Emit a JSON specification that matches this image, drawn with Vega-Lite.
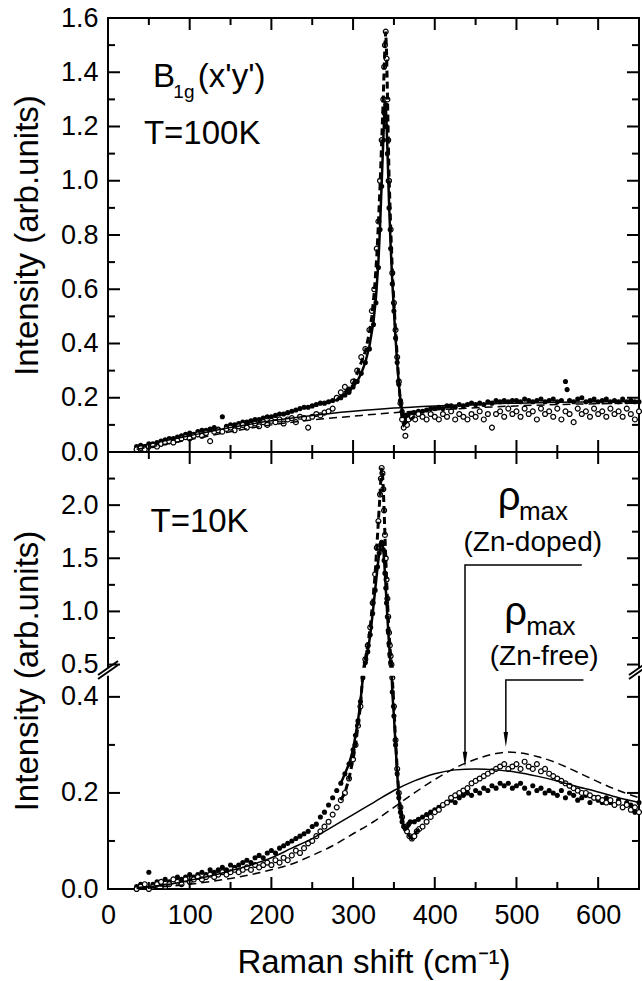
{
"$schema": "https://vega.github.io/schema/vega-lite/v6.json",
"padding": {"left": 10, "top": 3, "right": 3, "bottom": 5},
"spacing": 0,
"bounds": "flush",
"config": {
  "font": "Liberation Sans",
  "view": {"stroke": "black", "strokeWidth": 2},
  "axis": {"grid": false, "domain": false, "ticks": false, "labelColor": "black", "labelFont": "Liberation Sans", "labelFontSize": 27, "titleFont": "Liberation Sans", "titleFontSize": 33, "titleFontWeight": "normal", "titleColor": "black", "labelOverlap": false, "labelFlush": false},
  "tick": {"color": "black", "opacity": 1, "thickness": 2}
},
"datasets": {
  "xmaj": [{"v":100},{"v":200},{"v":300},{"v":400},{"v":500},{"v":600}],
  "xmin": [{"v":50},{"v":150},{"v":250},{"v":350},{"v":450},{"v":550}],
  "tymaj": [{"v":0.2},{"v":0.4},{"v":0.6},{"v":0.8},{"v":1.0},{"v":1.2},{"v":1.4}],
  "tymin": [{"v":0.1},{"v":0.3},{"v":0.5},{"v":0.7},{"v":0.9},{"v":1.1},{"v":1.3},{"v":1.5}],
  "bymaj": [{"v":0.2},{"v":0.4},{"v":0.5},{"v":1.0},{"v":1.5},{"v":2.0}],
  "bymin": [{"v":0.1},{"v":0.3},{"v":0.75},{"v":1.25},{"v":1.75},{"v":2.25}],
  "t_f": [{"x":35,"y":0.02},{"x":40,"y":0.025},{"x":45,"y":0.02},{"x":50,"y":0.03},{"x":55,"y":0.03},{"x":60,"y":0.035},{"x":65,"y":0.04},{"x":70,"y":0.045},{"x":75,"y":0.05},{"x":80,"y":0.05},{"x":85,"y":0.055},{"x":90,"y":0.06},{"x":95,"y":0.065},{"x":100,"y":0.07},{"x":105,"y":0.065},{"x":110,"y":0.075},{"x":115,"y":0.08},{"x":120,"y":0.08},{"x":125,"y":0.085},{"x":130,"y":0.09},{"x":135,"y":0.085},{"x":140,"y":0.13},{"x":145,"y":0.095},{"x":150,"y":0.1},{"x":155,"y":0.1},{"x":160,"y":0.105},{"x":165,"y":0.11},{"x":170,"y":0.11},{"x":175,"y":0.115},{"x":180,"y":0.12},{"x":185,"y":0.12},{"x":190,"y":0.125},{"x":195,"y":0.13},{"x":200,"y":0.13},{"x":205,"y":0.135},{"x":210,"y":0.14},{"x":215,"y":0.14},{"x":220,"y":0.145},{"x":225,"y":0.15},{"x":230,"y":0.155},{"x":235,"y":0.16},{"x":240,"y":0.165},{"x":245,"y":0.165},{"x":250,"y":0.17},{"x":255,"y":0.175},{"x":260,"y":0.18},{"x":265,"y":0.18},{"x":270,"y":0.185},{"x":275,"y":0.19},{"x":280,"y":0.195},{"x":285,"y":0.2},{"x":290,"y":0.21},{"x":295,"y":0.22},{"x":300,"y":0.24},{"x":305,"y":0.26},{"x":310,"y":0.29},{"x":315,"y":0.33},{"x":320,"y":0.38},{"x":325,"y":0.47},{"x":328,"y":0.55},{"x":331,"y":0.68},{"x":333,"y":0.82},{"x":335,"y":0.98},{"x":337,"y":1.15},{"x":338,"y":1.25},{"x":339,"y":1.3},{"x":340,"y":1.28},{"x":341,"y":1.2},{"x":342,"y":1.1},{"x":343,"y":1.0},{"x":344,"y":0.9},{"x":346,"y":0.75},{"x":348,"y":0.62},{"x":350,"y":0.52},{"x":352,"y":0.42},{"x":354,"y":0.33},{"x":356,"y":0.25},{"x":358,"y":0.19},{"x":360,"y":0.15},{"x":362,"y":0.13},{"x":364,"y":0.12},{"x":367,"y":0.13},{"x":370,"y":0.14},{"x":375,"y":0.145},{"x":380,"y":0.15},{"x":385,"y":0.15},{"x":390,"y":0.155},{"x":395,"y":0.16},{"x":400,"y":0.16},{"x":405,"y":0.165},{"x":410,"y":0.16},{"x":415,"y":0.17},{"x":420,"y":0.17},{"x":425,"y":0.165},{"x":430,"y":0.175},{"x":435,"y":0.17},{"x":440,"y":0.175},{"x":445,"y":0.18},{"x":450,"y":0.175},{"x":455,"y":0.18},{"x":460,"y":0.175},{"x":465,"y":0.185},{"x":470,"y":0.18},{"x":475,"y":0.19},{"x":480,"y":0.185},{"x":485,"y":0.19},{"x":490,"y":0.185},{"x":495,"y":0.19},{"x":500,"y":0.19},{"x":505,"y":0.185},{"x":510,"y":0.195},{"x":515,"y":0.19},{"x":520,"y":0.185},{"x":525,"y":0.19},{"x":530,"y":0.195},{"x":535,"y":0.185},{"x":540,"y":0.19},{"x":545,"y":0.195},{"x":550,"y":0.185},{"x":555,"y":0.19},{"x":560,"y":0.26},{"x":562,"y":0.23},{"x":565,"y":0.19},{"x":570,"y":0.185},{"x":575,"y":0.195},{"x":580,"y":0.2},{"x":585,"y":0.185},{"x":590,"y":0.19},{"x":595,"y":0.195},{"x":600,"y":0.185},{"x":605,"y":0.19},{"x":610,"y":0.195},{"x":615,"y":0.185},{"x":620,"y":0.19},{"x":625,"y":0.185},{"x":630,"y":0.195},{"x":635,"y":0.185},{"x":640,"y":0.19},{"x":645,"y":0.185},{"x":650,"y":0.185}],
  "t_o": [{"x":35,"y":0.01},{"x":40,"y":0.015},{"x":45,"y":0.01},{"x":50,"y":0.02},{"x":55,"y":0.025},{"x":60,"y":0.02},{"x":65,"y":0.03},{"x":70,"y":0.035},{"x":75,"y":0.04},{"x":80,"y":0.035},{"x":85,"y":0.045},{"x":90,"y":0.05},{"x":95,"y":0.055},{"x":100,"y":0.05},{"x":105,"y":0.06},{"x":110,"y":0.065},{"x":115,"y":0.06},{"x":120,"y":0.07},{"x":125,"y":0.04},{"x":130,"y":0.075},{"x":135,"y":0.08},{"x":140,"y":0.075},{"x":145,"y":0.085},{"x":150,"y":0.09},{"x":155,"y":0.08},{"x":160,"y":0.095},{"x":165,"y":0.1},{"x":170,"y":0.09},{"x":175,"y":0.1},{"x":180,"y":0.105},{"x":185,"y":0.095},{"x":190,"y":0.11},{"x":195,"y":0.1},{"x":200,"y":0.115},{"x":205,"y":0.11},{"x":210,"y":0.12},{"x":215,"y":0.105},{"x":220,"y":0.12},{"x":225,"y":0.125},{"x":230,"y":0.11},{"x":235,"y":0.13},{"x":240,"y":0.125},{"x":245,"y":0.09},{"x":250,"y":0.13},{"x":255,"y":0.14},{"x":260,"y":0.135},{"x":265,"y":0.145},{"x":270,"y":0.15},{"x":275,"y":0.16},{"x":280,"y":0.2},{"x":285,"y":0.22},{"x":290,"y":0.24},{"x":295,"y":0.23},{"x":300,"y":0.26},{"x":305,"y":0.3},{"x":310,"y":0.35},{"x":315,"y":0.38},{"x":320,"y":0.45},{"x":323,"y":0.52},{"x":326,"y":0.6},{"x":329,"y":0.75},{"x":331,"y":0.85},{"x":333,"y":1.0},{"x":335,"y":1.15},{"x":337,"y":1.3},{"x":338,"y":1.42},{"x":339,"y":1.5},{"x":340,"y":1.55},{"x":341,"y":1.45},{"x":342,"y":1.3},{"x":343,"y":1.15},{"x":344,"y":1.0},{"x":346,"y":0.82},{"x":348,"y":0.66},{"x":350,"y":0.55},{"x":352,"y":0.45},{"x":354,"y":0.35},{"x":356,"y":0.26},{"x":358,"y":0.18},{"x":360,"y":0.12},{"x":362,"y":0.09},{"x":364,"y":0.06},{"x":366,"y":0.1},{"x":368,"y":0.12},{"x":372,"y":0.13},{"x":376,"y":0.12},{"x":380,"y":0.14},{"x":385,"y":0.13},{"x":390,"y":0.12},{"x":395,"y":0.14},{"x":400,"y":0.13},{"x":405,"y":0.12},{"x":410,"y":0.14},{"x":415,"y":0.13},{"x":420,"y":0.15},{"x":425,"y":0.12},{"x":430,"y":0.14},{"x":435,"y":0.13},{"x":440,"y":0.12},{"x":445,"y":0.14},{"x":450,"y":0.13},{"x":455,"y":0.15},{"x":460,"y":0.12},{"x":465,"y":0.14},{"x":470,"y":0.09},{"x":475,"y":0.14},{"x":480,"y":0.15},{"x":485,"y":0.13},{"x":490,"y":0.16},{"x":495,"y":0.14},{"x":500,"y":0.15},{"x":505,"y":0.13},{"x":510,"y":0.16},{"x":515,"y":0.14},{"x":520,"y":0.15},{"x":525,"y":0.12},{"x":530,"y":0.16},{"x":535,"y":0.14},{"x":540,"y":0.15},{"x":545,"y":0.13},{"x":550,"y":0.16},{"x":555,"y":0.12},{"x":560,"y":0.15},{"x":565,"y":0.14},{"x":570,"y":0.11},{"x":575,"y":0.16},{"x":580,"y":0.14},{"x":585,"y":0.15},{"x":590,"y":0.13},{"x":595,"y":0.16},{"x":600,"y":0.14},{"x":605,"y":0.15},{"x":610,"y":0.13},{"x":615,"y":0.16},{"x":620,"y":0.14},{"x":625,"y":0.15},{"x":630,"y":0.13},{"x":635,"y":0.16},{"x":640,"y":0.14},{"x":645,"y":0.12},{"x":650,"y":0.15}],
  "t_bs": [{"x":35,"y":0.02},{"x":100,"y":0.06},{"x":150,"y":0.09},{"x":200,"y":0.115},{"x":250,"y":0.135},{"x":300,"y":0.15},{"x":350,"y":0.162},{"x":400,"y":0.17},{"x":450,"y":0.176},{"x":500,"y":0.18},{"x":550,"y":0.183},{"x":600,"y":0.185},{"x":650,"y":0.186}],
  "t_bd": [{"x":35,"y":0.01},{"x":100,"y":0.045},{"x":150,"y":0.075},{"x":200,"y":0.1},{"x":250,"y":0.118},{"x":300,"y":0.132},{"x":350,"y":0.145},{"x":400,"y":0.155},{"x":450,"y":0.163},{"x":500,"y":0.17},{"x":550,"y":0.175},{"x":600,"y":0.178},{"x":650,"y":0.18}],
  "t_ff": [{"x":280,"y":0.195},{"x":290,"y":0.21},{"x":300,"y":0.24},{"x":305,"y":0.26},{"x":310,"y":0.29},{"x":315,"y":0.33},{"x":320,"y":0.39},{"x":325,"y":0.48},{"x":328,"y":0.57},{"x":331,"y":0.7},{"x":333,"y":0.83},{"x":335,"y":0.99},{"x":337,"y":1.15},{"x":338,"y":1.23},{"x":339,"y":1.29},{"x":340,"y":1.28},{"x":341,"y":1.21},{"x":342,"y":1.12},{"x":343,"y":1.02},{"x":344,"y":0.92},{"x":346,"y":0.76},{"x":348,"y":0.63},{"x":350,"y":0.52},{"x":352,"y":0.42},{"x":354,"y":0.33},{"x":356,"y":0.25},{"x":358,"y":0.19},{"x":360,"y":0.155},{"x":362,"y":0.14},{"x":365,"y":0.14},{"x":370,"y":0.145},{"x":375,"y":0.15}],
  "t_fo": [{"x":280,"y":0.19},{"x":290,"y":0.22},{"x":300,"y":0.25},{"x":305,"y":0.29},{"x":310,"y":0.33},{"x":315,"y":0.37},{"x":320,"y":0.44},{"x":323,"y":0.5},{"x":326,"y":0.59},{"x":329,"y":0.72},{"x":331,"y":0.84},{"x":333,"y":0.98},{"x":335,"y":1.14},{"x":337,"y":1.31},{"x":338,"y":1.41},{"x":339,"y":1.5},{"x":340,"y":1.55},{"x":341,"y":1.47},{"x":342,"y":1.33},{"x":343,"y":1.17},{"x":344,"y":1.02},{"x":346,"y":0.83},{"x":348,"y":0.67},{"x":350,"y":0.55},{"x":352,"y":0.45},{"x":354,"y":0.35},{"x":356,"y":0.26},{"x":358,"y":0.18},{"x":360,"y":0.12},{"x":362,"y":0.1},{"x":365,"y":0.11},{"x":370,"y":0.12},{"x":375,"y":0.13}],
  "t_lab": [{"x":55,"y":1.346,"t":"B"},{"x":110,"y":1.346,"t":"(x'y')"},{"x":44,"y":1.135,"t":"T=100K"}],
  "t_sub": [{"x":80,"y":1.305,"t":"1g"}],
  "b_f": [{"x":35,"y":0.005},{"x":40,"y":0.01},{"x":45,"y":0.005},{"x":50,"y":0.035},{"x":55,"y":0.01},{"x":60,"y":0.015},{"x":65,"y":0.01},{"x":70,"y":0.02},{"x":75,"y":0.015},{"x":80,"y":0.02},{"x":85,"y":0.025},{"x":90,"y":0.02},{"x":95,"y":0.025},{"x":100,"y":0.03},{"x":105,"y":0.025},{"x":110,"y":0.03},{"x":115,"y":0.035},{"x":120,"y":0.03},{"x":125,"y":0.04},{"x":130,"y":0.035},{"x":135,"y":0.04},{"x":140,"y":0.045},{"x":145,"y":0.04},{"x":150,"y":0.05},{"x":155,"y":0.045},{"x":160,"y":0.05},{"x":165,"y":0.055},{"x":170,"y":0.06},{"x":175,"y":0.055},{"x":180,"y":0.065},{"x":185,"y":0.07},{"x":190,"y":0.065},{"x":195,"y":0.075},{"x":200,"y":0.08},{"x":205,"y":0.075},{"x":210,"y":0.085},{"x":215,"y":0.09},{"x":220,"y":0.095},{"x":225,"y":0.1},{"x":230,"y":0.105},{"x":235,"y":0.11},{"x":240,"y":0.115},{"x":245,"y":0.12},{"x":250,"y":0.13},{"x":255,"y":0.135},{"x":260,"y":0.15},{"x":265,"y":0.16},{"x":270,"y":0.175},{"x":275,"y":0.19},{"x":280,"y":0.205},{"x":285,"y":0.22},{"x":290,"y":0.24},{"x":295,"y":0.26},{"x":300,"y":0.29},{"x":303,"y":0.32},{"x":306,"y":0.35},{"x":309,"y":0.39},{"x":312,"y":0.44},{"x":315,"y":0.52},{"x":318,"y":0.62},{"x":321,"y":0.78},{"x":324,"y":0.98},{"x":327,"y":1.2},{"x":330,"y":1.42},{"x":332,"y":1.55},{"x":334,"y":1.63},{"x":335,"y":1.65},{"x":336,"y":1.64},{"x":337,"y":1.58},{"x":338,"y":1.48},{"x":339,"y":1.36},{"x":340,"y":1.22},{"x":341,"y":1.08},{"x":342,"y":0.95},{"x":343,"y":0.82},{"x":344,"y":0.7},{"x":345,"y":0.6},{"x":346,"y":0.52},{"x":347,"y":0.46},{"x":348,"y":0.41},{"x":350,"y":0.36},{"x":352,"y":0.3},{"x":354,"y":0.24},{"x":356,"y":0.19},{"x":358,"y":0.16},{"x":360,"y":0.14},{"x":362,"y":0.13},{"x":364,"y":0.125},{"x":366,"y":0.13},{"x":368,"y":0.135},{"x":370,"y":0.14},{"x":375,"y":0.14},{"x":380,"y":0.145},{"x":385,"y":0.15},{"x":390,"y":0.155},{"x":395,"y":0.16},{"x":400,"y":0.165},{"x":405,"y":0.17},{"x":410,"y":0.175},{"x":415,"y":0.18},{"x":420,"y":0.185},{"x":425,"y":0.18},{"x":430,"y":0.19},{"x":435,"y":0.195},{"x":440,"y":0.2},{"x":445,"y":0.195},{"x":450,"y":0.205},{"x":455,"y":0.2},{"x":460,"y":0.21},{"x":465,"y":0.205},{"x":470,"y":0.215},{"x":475,"y":0.21},{"x":480,"y":0.22},{"x":485,"y":0.215},{"x":490,"y":0.22},{"x":495,"y":0.21},{"x":500,"y":0.215},{"x":505,"y":0.22},{"x":510,"y":0.21},{"x":515,"y":0.2},{"x":520,"y":0.215},{"x":525,"y":0.205},{"x":530,"y":0.21},{"x":535,"y":0.2},{"x":540,"y":0.205},{"x":545,"y":0.2},{"x":550,"y":0.195},{"x":555,"y":0.205},{"x":560,"y":0.19},{"x":565,"y":0.2},{"x":570,"y":0.195},{"x":575,"y":0.185},{"x":580,"y":0.19},{"x":585,"y":0.195},{"x":590,"y":0.18},{"x":595,"y":0.19},{"x":600,"y":0.185},{"x":605,"y":0.18},{"x":610,"y":0.19},{"x":615,"y":0.18},{"x":620,"y":0.175},{"x":625,"y":0.185},{"x":630,"y":0.17},{"x":635,"y":0.18},{"x":640,"y":0.175},{"x":645,"y":0.16},{"x":650,"y":0.18}],
  "b_o": [{"x":35,"y":0.0},{"x":40,"y":0.005},{"x":45,"y":0.01},{"x":50,"y":0.0},{"x":55,"y":0.005},{"x":60,"y":0.01},{"x":65,"y":0.015},{"x":70,"y":0.005},{"x":75,"y":0.01},{"x":80,"y":0.02},{"x":85,"y":0.015},{"x":90,"y":0.01},{"x":95,"y":0.02},{"x":100,"y":0.015},{"x":105,"y":0.02},{"x":110,"y":0.025},{"x":115,"y":0.02},{"x":120,"y":0.025},{"x":125,"y":0.03},{"x":130,"y":0.025},{"x":135,"y":0.03},{"x":140,"y":0.035},{"x":145,"y":0.03},{"x":150,"y":0.035},{"x":155,"y":0.04},{"x":160,"y":0.035},{"x":165,"y":0.04},{"x":170,"y":0.045},{"x":175,"y":0.04},{"x":180,"y":0.05},{"x":185,"y":0.045},{"x":190,"y":0.05},{"x":195,"y":0.055},{"x":200,"y":0.05},{"x":205,"y":0.06},{"x":210,"y":0.055},{"x":215,"y":0.065},{"x":220,"y":0.06},{"x":225,"y":0.07},{"x":230,"y":0.08},{"x":235,"y":0.075},{"x":240,"y":0.085},{"x":245,"y":0.095},{"x":250,"y":0.1},{"x":255,"y":0.11},{"x":260,"y":0.12},{"x":265,"y":0.13},{"x":270,"y":0.14},{"x":275,"y":0.155},{"x":280,"y":0.17},{"x":285,"y":0.185},{"x":290,"y":0.2},{"x":295,"y":0.23},{"x":300,"y":0.27},{"x":303,"y":0.3},{"x":306,"y":0.34},{"x":309,"y":0.38},{"x":312,"y":0.45},{"x":315,"y":0.55},{"x":318,"y":0.68},{"x":321,"y":0.85},{"x":324,"y":1.08},{"x":327,"y":1.35},{"x":329,"y":1.6},{"x":331,"y":1.85},{"x":333,"y":2.1},{"x":334,"y":2.25},{"x":335,"y":2.35},{"x":336,"y":2.3},{"x":337,"y":2.15},{"x":338,"y":1.95},{"x":339,"y":1.72},{"x":340,"y":1.5},{"x":341,"y":1.3},{"x":342,"y":1.12},{"x":343,"y":0.95},{"x":344,"y":0.8},{"x":345,"y":0.68},{"x":346,"y":0.58},{"x":347,"y":0.5},{"x":348,"y":0.44},{"x":350,"y":0.38},{"x":352,"y":0.31},{"x":354,"y":0.25},{"x":356,"y":0.2},{"x":358,"y":0.17},{"x":360,"y":0.15},{"x":363,"y":0.13},{"x":366,"y":0.12},{"x":369,"y":0.11},{"x":372,"y":0.105},{"x":375,"y":0.11},{"x":378,"y":0.12},{"x":381,"y":0.125},{"x":385,"y":0.13},{"x":390,"y":0.14},{"x":395,"y":0.15},{"x":400,"y":0.16},{"x":405,"y":0.165},{"x":410,"y":0.175},{"x":415,"y":0.18},{"x":420,"y":0.19},{"x":425,"y":0.195},{"x":430,"y":0.2},{"x":435,"y":0.205},{"x":440,"y":0.21},{"x":445,"y":0.22},{"x":450,"y":0.225},{"x":455,"y":0.23},{"x":460,"y":0.235},{"x":465,"y":0.24},{"x":470,"y":0.245},{"x":475,"y":0.25},{"x":480,"y":0.255},{"x":485,"y":0.26},{"x":490,"y":0.25},{"x":495,"y":0.255},{"x":500,"y":0.26},{"x":505,"y":0.25},{"x":510,"y":0.265},{"x":515,"y":0.255},{"x":520,"y":0.25},{"x":525,"y":0.26},{"x":530,"y":0.245},{"x":535,"y":0.25},{"x":540,"y":0.24},{"x":545,"y":0.235},{"x":550,"y":0.23},{"x":555,"y":0.225},{"x":560,"y":0.22},{"x":565,"y":0.215},{"x":570,"y":0.21},{"x":575,"y":0.205},{"x":580,"y":0.2},{"x":585,"y":0.2},{"x":590,"y":0.195},{"x":595,"y":0.19},{"x":600,"y":0.19},{"x":605,"y":0.185},{"x":610,"y":0.18},{"x":615,"y":0.185},{"x":620,"y":0.175},{"x":625,"y":0.18},{"x":630,"y":0.17},{"x":635,"y":0.175},{"x":640,"y":0.165},{"x":645,"y":0.17},{"x":650,"y":0.16}],
  "b_bs": [{"x":35,"y":0.003},{"x":75,"y":0.01},{"x":100,"y":0.018},{"x":125,"y":0.027},{"x":150,"y":0.038},{"x":175,"y":0.05},{"x":200,"y":0.065},{"x":225,"y":0.085},{"x":250,"y":0.105},{"x":275,"y":0.13},{"x":300,"y":0.155},{"x":325,"y":0.18},{"x":350,"y":0.205},{"x":375,"y":0.225},{"x":400,"y":0.24},{"x":425,"y":0.248},{"x":450,"y":0.25},{"x":475,"y":0.248},{"x":500,"y":0.243},{"x":525,"y":0.235},{"x":550,"y":0.225},{"x":575,"y":0.213},{"x":600,"y":0.202},{"x":625,"y":0.19},{"x":650,"y":0.18}],
  "b_bd": [{"x":35,"y":0.001},{"x":100,"y":0.01},{"x":150,"y":0.022},{"x":200,"y":0.04},{"x":225,"y":0.052},{"x":250,"y":0.07},{"x":275,"y":0.09},{"x":300,"y":0.115},{"x":325,"y":0.14},{"x":350,"y":0.17},{"x":375,"y":0.2},{"x":400,"y":0.228},{"x":425,"y":0.252},{"x":450,"y":0.27},{"x":475,"y":0.282},{"x":490,"y":0.285},{"x":500,"y":0.284},{"x":525,"y":0.276},{"x":550,"y":0.262},{"x":575,"y":0.243},{"x":600,"y":0.223},{"x":625,"y":0.205},{"x":650,"y":0.19}],
  "b_ff": [{"x":285,"y":0.22},{"x":290,"y":0.24},{"x":295,"y":0.26},{"x":300,"y":0.29},{"x":303,"y":0.32},{"x":306,"y":0.35},{"x":309,"y":0.39},{"x":312,"y":0.44},{"x":315,"y":0.52},{"x":318,"y":0.62},{"x":321,"y":0.78},{"x":324,"y":0.98},{"x":327,"y":1.2},{"x":330,"y":1.42},{"x":332,"y":1.55},{"x":334,"y":1.63},{"x":335,"y":1.65},{"x":336,"y":1.64},{"x":337,"y":1.58},{"x":338,"y":1.48},{"x":339,"y":1.36},{"x":340,"y":1.22},{"x":341,"y":1.08},{"x":342,"y":0.95},{"x":343,"y":0.82},{"x":344,"y":0.7},{"x":345,"y":0.6},{"x":346,"y":0.52},{"x":347,"y":0.46},{"x":348,"y":0.41},{"x":350,"y":0.36},{"x":352,"y":0.3},{"x":354,"y":0.24},{"x":356,"y":0.19},{"x":358,"y":0.16},{"x":360,"y":0.14},{"x":362,"y":0.13},{"x":364,"y":0.125},{"x":367,"y":0.13},{"x":372,"y":0.14},{"x":380,"y":0.145}],
  "b_fo": [{"x":285,"y":0.185},{"x":290,"y":0.2},{"x":295,"y":0.23},{"x":300,"y":0.27},{"x":303,"y":0.3},{"x":306,"y":0.34},{"x":309,"y":0.38},{"x":312,"y":0.45},{"x":315,"y":0.55},{"x":318,"y":0.68},{"x":321,"y":0.85},{"x":324,"y":1.08},{"x":327,"y":1.35},{"x":329,"y":1.6},{"x":331,"y":1.85},{"x":333,"y":2.1},{"x":334,"y":2.25},{"x":335,"y":2.35},{"x":336,"y":2.3},{"x":337,"y":2.15},{"x":338,"y":1.95},{"x":339,"y":1.72},{"x":340,"y":1.5},{"x":341,"y":1.3},{"x":342,"y":1.12},{"x":343,"y":0.95},{"x":344,"y":0.8},{"x":345,"y":0.68},{"x":346,"y":0.58},{"x":347,"y":0.5},{"x":348,"y":0.44},{"x":350,"y":0.38},{"x":352,"y":0.31},{"x":354,"y":0.25},{"x":356,"y":0.2},{"x":358,"y":0.17},{"x":360,"y":0.15},{"x":363,"y":0.13},{"x":366,"y":0.12},{"x":369,"y":0.11},{"x":372,"y":0.105},{"x":378,"y":0.12},{"x":385,"y":0.13}],
  "b_band": [{"x":-8,"x2":658,"y":0.444,"y2":0.47}],
  "b_brk": [{"x":0,"y":0.456},{"x":650,"y":0.456}],
  "b_arr": [{"a":"d","o":1,"x":580,"y":1.437},{"a":"d","o":2,"x":437,"y":1.437},{"a":"d","o":3,"x":437,"y":0.27},{"a":"f","o":1,"x":582,"y":0.435},{"a":"f","o":2,"x":487,"y":0.435},{"a":"f","o":3,"x":487,"y":0.311}],
  "b_head": [{"x":437,"y":0.27},{"x":487,"y":0.311}],
  "b_lab": [{"x":52,"y":1.75,"t":"T=10K"}],
  "b_rho": [{"x":477,"y":1.954,"t":"ρ"},{"x":485,"y":0.87,"t":"ρ"}],
  "b_max": [{"x":503,"y":1.86,"t":"max"},{"x":512,"y":0.78,"t":"max"}],
  "b_zn": [{"x":520,"y":1.569,"t":"(Zn-doped)"},{"x":534,"y":0.496,"t":"(Zn-free)"}]
},
"vconcat": [
  {
    "width": 531, "height": 434,
    "resolve": {"axis": {"x": "independent", "y": "independent"}},
    "layer": [
      {"data": {"name": "t_f"}, "mark": {"type": "point", "shape": "circle", "filled": true, "color": "black", "size": 26, "opacity": 1},
       "encoding": {
         "x": {"field": "x", "type": "quantitative", "scale": {"domain": [0, 650], "nice": false, "zero": false}, "axis": null},
         "y": {"field": "y", "type": "quantitative", "scale": {"domain": [0, 1.6], "nice": false, "zero": false}, "axis": {"orient": "left", "values": [0,0.2,0.4,0.6,0.8,1.0,1.2,1.4,1.6], "format": ".1f", "labelPadding": 10, "title": "Intensity (arb.units)", "titlePadding": 16}}}},
      {"data": {"name": "t_o"}, "mark": {"type": "point", "shape": "circle", "filled": true, "fill": "white", "stroke": "black", "strokeWidth": 1.2, "size": 24, "opacity": 1},
       "encoding": {"x": {"field": "x", "type": "quantitative", "axis": null}, "y": {"field": "y", "type": "quantitative", "axis": null}}},
      {"data": {"name": "t_bs"}, "mark": {"type": "line", "color": "black", "strokeWidth": 1.5, "interpolate": "monotone"},
       "encoding": {"x": {"field": "x", "type": "quantitative", "axis": null}, "y": {"field": "y", "type": "quantitative", "axis": null}}},
      {"data": {"name": "t_bd"}, "mark": {"type": "line", "color": "black", "strokeWidth": 1.5, "strokeDash": [8, 5], "interpolate": "monotone"},
       "encoding": {"x": {"field": "x", "type": "quantitative", "axis": null}, "y": {"field": "y", "type": "quantitative", "axis": null}}},
      {"data": {"name": "t_ff"}, "mark": {"type": "line", "color": "black", "strokeWidth": 2.5},
       "encoding": {"x": {"field": "x", "type": "quantitative", "axis": null}, "y": {"field": "y", "type": "quantitative", "axis": null}}},
      {"data": {"name": "t_fo"}, "mark": {"type": "line", "color": "black", "strokeWidth": 3, "strokeDash": [7, 4]},
       "encoding": {"x": {"field": "x", "type": "quantitative", "axis": null}, "y": {"field": "y", "type": "quantitative", "axis": null}}},
      {"data": {"name": "xmaj"}, "mark": {"type": "tick", "orient": "vertical", "size": 12, "yOffset": -6},
       "encoding": {"x": {"field": "v", "type": "quantitative", "axis": null}, "y": {"datum": 0, "type": "quantitative", "axis": null}}},
      {"data": {"name": "xmin"}, "mark": {"type": "tick", "orient": "vertical", "size": 7, "yOffset": -3.5},
       "encoding": {"x": {"field": "v", "type": "quantitative", "axis": null}, "y": {"datum": 0, "type": "quantitative", "axis": null}}},
      {"data": {"name": "xmaj"}, "mark": {"type": "tick", "orient": "vertical", "size": 12, "yOffset": 6},
       "encoding": {"x": {"field": "v", "type": "quantitative", "axis": null}, "y": {"datum": 1.6, "type": "quantitative", "axis": null}}},
      {"data": {"name": "xmin"}, "mark": {"type": "tick", "orient": "vertical", "size": 7, "yOffset": 3.5},
       "encoding": {"x": {"field": "v", "type": "quantitative", "axis": null}, "y": {"datum": 1.6, "type": "quantitative", "axis": null}}},
      {"data": {"name": "tymaj"}, "mark": {"type": "tick", "orient": "horizontal", "size": 12, "xOffset": 6},
       "encoding": {"y": {"field": "v", "type": "quantitative", "axis": null}, "x": {"datum": 0, "type": "quantitative", "axis": null}}},
      {"data": {"name": "tymin"}, "mark": {"type": "tick", "orient": "horizontal", "size": 7, "xOffset": 3.5},
       "encoding": {"y": {"field": "v", "type": "quantitative", "axis": null}, "x": {"datum": 0, "type": "quantitative", "axis": null}}},
      {"data": {"name": "tymaj"}, "mark": {"type": "tick", "orient": "horizontal", "size": 12, "xOffset": -6},
       "encoding": {"y": {"field": "v", "type": "quantitative", "axis": null}, "x": {"datum": 650, "type": "quantitative", "axis": null}}},
      {"data": {"name": "tymin"}, "mark": {"type": "tick", "orient": "horizontal", "size": 7, "xOffset": -3.5},
       "encoding": {"y": {"field": "v", "type": "quantitative", "axis": null}, "x": {"datum": 650, "type": "quantitative", "axis": null}}},
      {"data": {"name": "t_lab"}, "mark": {"type": "text", "align": "left", "baseline": "alphabetic", "fontSize": 33, "color": "black"},
       "encoding": {"x": {"field": "x", "type": "quantitative", "axis": null}, "y": {"field": "y", "type": "quantitative", "axis": null}, "text": {"field": "t"}}},
      {"data": {"name": "t_sub"}, "mark": {"type": "text", "align": "left", "baseline": "alphabetic", "fontSize": 19, "color": "black"},
       "encoding": {"x": {"field": "x", "type": "quantitative", "axis": null}, "y": {"field": "y", "type": "quantitative", "axis": null}, "text": {"field": "t"}}}
    ]
  },
  {
    "width": 531, "height": 437,
    "resolve": {"axis": {"x": "independent", "y": "independent"}},
    "layer": [
      {"data": {"name": "b_f"}, "mark": {"type": "point", "shape": "circle", "filled": true, "color": "black", "size": 26, "opacity": 1},
       "encoding": {
         "x": {"field": "x", "type": "quantitative", "scale": {"domain": [0, 650], "nice": false, "zero": false}, "axis": {"orient": "bottom", "values": [0,100,200,300,400,500,600], "format": "d", "labelPadding": 13, "title": "Raman shift (cm⁻¹)", "titlePadding": 18}},
         "y": {"field": "y", "type": "quantitative", "scale": {"domain": [0, 0.458, 2.5], "range": [437, 217, 0], "nice": false, "zero": false}, "axis": {"orient": "left", "values": [0,0.2,0.4,0.5,1.0,1.5,2.0], "format": ".1f", "labelPadding": 10, "title": "Intensity (arb.units)", "titlePadding": 16}}}},
      {"data": {"name": "b_o"}, "mark": {"type": "point", "shape": "circle", "filled": true, "fill": "white", "stroke": "black", "strokeWidth": 1.2, "size": 24, "opacity": 1},
       "encoding": {"x": {"field": "x", "type": "quantitative", "axis": null}, "y": {"field": "y", "type": "quantitative", "axis": null}}},
      {"data": {"name": "b_bs"}, "mark": {"type": "line", "color": "black", "strokeWidth": 1.5, "interpolate": "monotone"},
       "encoding": {"x": {"field": "x", "type": "quantitative", "axis": null}, "y": {"field": "y", "type": "quantitative", "axis": null}}},
      {"data": {"name": "b_bd"}, "mark": {"type": "line", "color": "black", "strokeWidth": 1.5, "strokeDash": [8, 5], "interpolate": "monotone"},
       "encoding": {"x": {"field": "x", "type": "quantitative", "axis": null}, "y": {"field": "y", "type": "quantitative", "axis": null}}},
      {"data": {"name": "b_ff"}, "mark": {"type": "line", "color": "black", "strokeWidth": 2.5},
       "encoding": {"x": {"field": "x", "type": "quantitative", "axis": null}, "y": {"field": "y", "type": "quantitative", "axis": null}}},
      {"data": {"name": "b_fo"}, "mark": {"type": "line", "color": "black", "strokeWidth": 3, "strokeDash": [7, 4]},
       "encoding": {"x": {"field": "x", "type": "quantitative", "axis": null}, "y": {"field": "y", "type": "quantitative", "axis": null}}},
      {"data": {"name": "xmaj"}, "mark": {"type": "tick", "orient": "vertical", "size": 12, "yOffset": -6},
       "encoding": {"x": {"field": "v", "type": "quantitative", "axis": null}, "y": {"datum": 0, "type": "quantitative", "axis": null}}},
      {"data": {"name": "xmin"}, "mark": {"type": "tick", "orient": "vertical", "size": 7, "yOffset": -3.5},
       "encoding": {"x": {"field": "v", "type": "quantitative", "axis": null}, "y": {"datum": 0, "type": "quantitative", "axis": null}}},
      {"data": {"name": "xmaj"}, "mark": {"type": "tick", "orient": "vertical", "size": 12, "yOffset": 6},
       "encoding": {"x": {"field": "v", "type": "quantitative", "axis": null}, "y": {"datum": 2.5, "type": "quantitative", "axis": null}}},
      {"data": {"name": "xmin"}, "mark": {"type": "tick", "orient": "vertical", "size": 7, "yOffset": 3.5},
       "encoding": {"x": {"field": "v", "type": "quantitative", "axis": null}, "y": {"datum": 2.5, "type": "quantitative", "axis": null}}},
      {"data": {"name": "bymaj"}, "mark": {"type": "tick", "orient": "horizontal", "size": 12, "xOffset": 6},
       "encoding": {"y": {"field": "v", "type": "quantitative", "axis": null}, "x": {"datum": 0, "type": "quantitative", "axis": null}}},
      {"data": {"name": "bymin"}, "mark": {"type": "tick", "orient": "horizontal", "size": 7, "xOffset": 3.5},
       "encoding": {"y": {"field": "v", "type": "quantitative", "axis": null}, "x": {"datum": 0, "type": "quantitative", "axis": null}}},
      {"data": {"name": "bymaj"}, "mark": {"type": "tick", "orient": "horizontal", "size": 12, "xOffset": -6},
       "encoding": {"y": {"field": "v", "type": "quantitative", "axis": null}, "x": {"datum": 650, "type": "quantitative", "axis": null}}},
      {"data": {"name": "bymin"}, "mark": {"type": "tick", "orient": "horizontal", "size": 7, "xOffset": -3.5},
       "encoding": {"y": {"field": "v", "type": "quantitative", "axis": null}, "x": {"datum": 650, "type": "quantitative", "axis": null}}},
      {"data": {"name": "b_band"}, "mark": {"type": "rect", "color": "white", "opacity": 1},
       "encoding": {"x": {"field": "x", "type": "quantitative", "axis": null}, "x2": {"field": "x2"}, "y": {"field": "y", "type": "quantitative", "axis": null}, "y2": {"field": "y2"}}},
      {"data": {"name": "b_arr"}, "mark": {"type": "line", "color": "black", "strokeWidth": 1.5},
       "encoding": {"x": {"field": "x", "type": "quantitative", "axis": null}, "y": {"field": "y", "type": "quantitative", "axis": null}, "detail": {"field": "a"}, "order": {"field": "o"}}},
      {"data": {"name": "b_head"}, "mark": {"type": "point", "shape": "M-0.3,-1L0.3,-1L0,1Z", "filled": true, "color": "black", "size": 225, "opacity": 1},
       "encoding": {"x": {"field": "x", "type": "quantitative", "axis": null}, "y": {"field": "y", "type": "quantitative", "axis": null}}},
      {"data": {"name": "b_brk"}, "mark": {"type": "point", "shape": "M-1,0.9L1,-0.5M-1,0.5L1,-0.9", "filled": false, "stroke": "black", "strokeWidth": 2, "size": 400, "opacity": 1},
       "encoding": {"x": {"field": "x", "type": "quantitative", "axis": null}, "y": {"field": "y", "type": "quantitative", "axis": null}}},
      {"data": {"name": "b_lab"}, "mark": {"type": "text", "align": "left", "baseline": "alphabetic", "fontSize": 33, "color": "black"},
       "encoding": {"x": {"field": "x", "type": "quantitative", "axis": null}, "y": {"field": "y", "type": "quantitative", "axis": null}, "text": {"field": "t"}}},
      {"data": {"name": "b_rho"}, "mark": {"type": "text", "align": "left", "baseline": "alphabetic", "fontSize": 40, "color": "black"},
       "encoding": {"x": {"field": "x", "type": "quantitative", "axis": null}, "y": {"field": "y", "type": "quantitative", "axis": null}, "text": {"field": "t"}}},
      {"data": {"name": "b_max"}, "mark": {"type": "text", "align": "left", "baseline": "alphabetic", "fontSize": 26, "color": "black"},
       "encoding": {"x": {"field": "x", "type": "quantitative", "axis": null}, "y": {"field": "y", "type": "quantitative", "axis": null}, "text": {"field": "t"}}},
      {"data": {"name": "b_zn"}, "mark": {"type": "text", "align": "center", "baseline": "alphabetic", "fontSize": 28, "color": "black"},
       "encoding": {"x": {"field": "x", "type": "quantitative", "axis": null}, "y": {"field": "y", "type": "quantitative", "axis": null}, "text": {"field": "t"}}}
    ]
  }
]
}
